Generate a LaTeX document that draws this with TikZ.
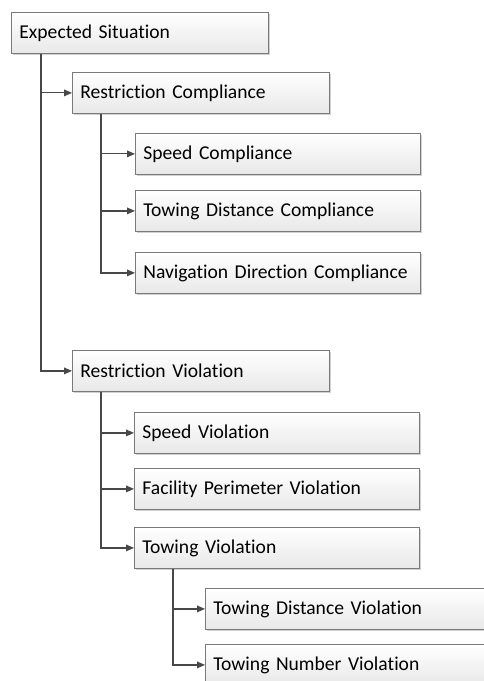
\documentclass[tikz,border=0pt]{standalone}
\usepackage{fontspec}
\setmainfont{Carlito}[RawFeature=-liga]
\usetikzlibrary{arrows.meta,shadows}
\definecolor{linegray}{HTML}{484848}
\definecolor{edgegray}{HTML}{7A7A7A}
\tikzset{
	box/.style={draw=edgegray, line width=0.6pt, rectangle, anchor=north west,
		top color=white, bottom color=black!9, minimum height=30.75pt,
		inner xsep=6pt, align=left, font=\fontsize{14.7}{17}\selectfont,
		drop shadow={shadow xshift=1.2pt, shadow yshift=-1.2pt, fill=black!30, opacity=.6}},
	narrow/.style={box, text width=180.75pt},
	wide/.style={box, text width=201.75pt},
	link/.style={draw=linegray, line width=0.9pt, -{Triangle[length=6pt,width=5pt]}}
}
\begin{document}
\begin{tikzpicture}[x=0.75pt,y=-0.75pt]
\useasboundingbox (0,0) rectangle (484,681);
\clip (0,0) rectangle (484,681);
\node[narrow] (es) at (11,12) {Expected Situation};
\node[narrow] (rc) at (72,72) {Restriction Compliance};
\node[wide] (sc) at (135,133) {Speed Compliance};
\node[wide] (tdc) at (135,190) {Towing Distance Compliance};
\node[wide] (ndc) at (135,252) {Navigation Direction Compliance};
\node[narrow] (rv) at (72,350) {Restriction Violation};
\node[wide] (sv) at (134,412) {Speed Violation};
\node[wide] (fpv) at (134,468) {Facility Perimeter Violation};
\node[wide] (tv) at (134,527) {Towing Violation};
\node[wide] (tdv) at (205,588) {Towing Distance Violation};
\node[wide] (tnv) at (205,644) {Towing Number Violation};
\foreach \p/\c/\s in {es/rc/22.5, es/rv/22.5, rc/sc/21.75, rc/tdc/21.75, rc/ndc/21.75,
	rv/sv/21.75, rv/fpv/21.75, rv/tv/21.75, tv/tdv/29.25, tv/tnv/29.25} {
	\draw[link] ([xshift=\s pt]\p.south west) |- (\c.west);
}
\end{tikzpicture}
\end{document}
